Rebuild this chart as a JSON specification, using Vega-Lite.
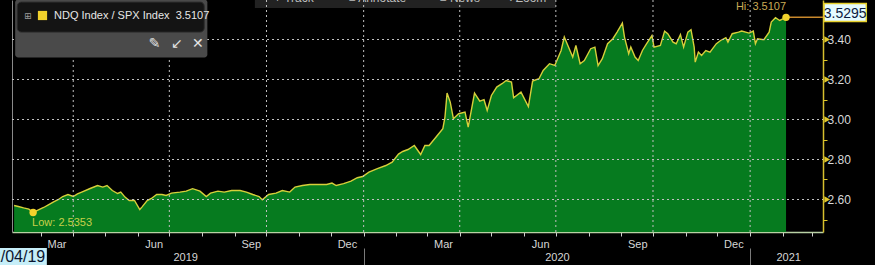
{
  "$schema": "https://vega.github.io/schema/vega-lite/v6.json",
  "width": 811,
  "height": 232,
  "autosize": {"type": "none"},
  "padding": {"left": 12, "top": 0, "right": 52, "bottom": 33},
  "background": "#000000",
  "config": {"view": {"stroke": null}, "font": "Liberation Sans"},
  "datasets": {
    "series": [
      {"d": "2019-02-04", "v": 2.570}, {"d": "2019-02-08", "v": 2.565}, {"d": "2019-02-13", "v": 2.558},
      {"d": "2019-02-18", "v": 2.552}, {"d": "2019-02-22", "v": 2.5353}, {"d": "2019-02-27", "v": 2.548},
      {"d": "2019-03-04", "v": 2.560}, {"d": "2019-03-08", "v": 2.572}, {"d": "2019-03-13", "v": 2.587},
      {"d": "2019-03-18", "v": 2.600}, {"d": "2019-03-22", "v": 2.615}, {"d": "2019-03-27", "v": 2.625},
      {"d": "2019-04-01", "v": 2.615}, {"d": "2019-04-05", "v": 2.628}, {"d": "2019-04-09", "v": 2.637},
      {"d": "2019-04-17", "v": 2.655}, {"d": "2019-04-24", "v": 2.670}, {"d": "2019-04-29", "v": 2.662},
      {"d": "2019-05-03", "v": 2.670}, {"d": "2019-05-08", "v": 2.645}, {"d": "2019-05-13", "v": 2.630},
      {"d": "2019-05-16", "v": 2.637}, {"d": "2019-05-20", "v": 2.612}, {"d": "2019-05-24", "v": 2.595},
      {"d": "2019-05-29", "v": 2.595}, {"d": "2019-06-03", "v": 2.550}, {"d": "2019-06-05", "v": 2.562},
      {"d": "2019-06-10", "v": 2.595}, {"d": "2019-06-14", "v": 2.605}, {"d": "2019-06-19", "v": 2.625},
      {"d": "2019-06-24", "v": 2.625}, {"d": "2019-06-28", "v": 2.620}, {"d": "2019-07-03", "v": 2.632},
      {"d": "2019-07-11", "v": 2.637}, {"d": "2019-07-17", "v": 2.642}, {"d": "2019-07-23", "v": 2.654},
      {"d": "2019-07-30", "v": 2.642}, {"d": "2019-08-05", "v": 2.615}, {"d": "2019-08-09", "v": 2.632},
      {"d": "2019-08-16", "v": 2.642}, {"d": "2019-08-22", "v": 2.637}, {"d": "2019-08-29", "v": 2.645},
      {"d": "2019-09-06", "v": 2.645}, {"d": "2019-09-12", "v": 2.637}, {"d": "2019-09-18", "v": 2.625},
      {"d": "2019-09-24", "v": 2.615}, {"d": "2019-09-27", "v": 2.599}, {"d": "2019-10-03", "v": 2.625},
      {"d": "2019-10-10", "v": 2.632}, {"d": "2019-10-16", "v": 2.645}, {"d": "2019-10-23", "v": 2.637},
      {"d": "2019-10-28", "v": 2.662}, {"d": "2019-11-04", "v": 2.670}, {"d": "2019-11-11", "v": 2.675},
      {"d": "2019-11-18", "v": 2.675}, {"d": "2019-11-27", "v": 2.675}, {"d": "2019-12-02", "v": 2.682},
      {"d": "2019-12-06", "v": 2.670}, {"d": "2019-12-13", "v": 2.679}, {"d": "2019-12-20", "v": 2.692},
      {"d": "2019-12-26", "v": 2.709}, {"d": "2019-12-31", "v": 2.715}, {"d": "2020-01-06", "v": 2.737},
      {"d": "2020-01-14", "v": 2.754}, {"d": "2020-01-22", "v": 2.770}, {"d": "2020-01-28", "v": 2.787},
      {"d": "2020-02-03", "v": 2.827}, {"d": "2020-02-07", "v": 2.840}, {"d": "2020-02-12", "v": 2.850},
      {"d": "2020-02-18", "v": 2.870}, {"d": "2020-02-24", "v": 2.825}, {"d": "2020-02-28", "v": 2.870},
      {"d": "2020-03-03", "v": 2.870}, {"d": "2020-03-10", "v": 2.915}, {"d": "2020-03-16", "v": 2.954},
      {"d": "2020-03-18", "v": 3.012}, {"d": "2020-03-20", "v": 3.132}, {"d": "2020-03-23", "v": 3.087},
      {"d": "2020-03-26", "v": 3.004}, {"d": "2020-03-31", "v": 3.029}, {"d": "2020-04-06", "v": 3.037},
      {"d": "2020-04-09", "v": 2.962}, {"d": "2020-04-15", "v": 3.132}, {"d": "2020-04-20", "v": 3.092},
      {"d": "2020-04-24", "v": 3.099}, {"d": "2020-04-27", "v": 3.045}, {"d": "2020-05-01", "v": 3.120},
      {"d": "2020-05-06", "v": 3.162}, {"d": "2020-05-11", "v": 3.179}, {"d": "2020-05-15", "v": 3.195},
      {"d": "2020-05-20", "v": 3.187}, {"d": "2020-05-22", "v": 3.109}, {"d": "2020-05-29", "v": 3.137},
      {"d": "2020-06-05", "v": 3.065}, {"d": "2020-06-09", "v": 3.192}, {"d": "2020-06-15", "v": 3.204},
      {"d": "2020-06-19", "v": 3.245}, {"d": "2020-06-25", "v": 3.279}, {"d": "2020-06-30", "v": 3.270},
      {"d": "2020-07-06", "v": 3.345}, {"d": "2020-07-09", "v": 3.412}, {"d": "2020-07-13", "v": 3.362},
      {"d": "2020-07-17", "v": 3.312}, {"d": "2020-07-20", "v": 3.370}, {"d": "2020-07-24", "v": 3.279},
      {"d": "2020-07-28", "v": 3.295}, {"d": "2020-08-03", "v": 3.354}, {"d": "2020-08-07", "v": 3.362},
      {"d": "2020-08-10", "v": 3.270}, {"d": "2020-08-14", "v": 3.304}, {"d": "2020-08-19", "v": 3.379},
      {"d": "2020-08-24", "v": 3.404}, {"d": "2020-08-28", "v": 3.437}, {"d": "2020-09-02", "v": 3.482},
      {"d": "2020-09-04", "v": 3.412}, {"d": "2020-09-08", "v": 3.329}, {"d": "2020-09-10", "v": 3.362},
      {"d": "2020-09-14", "v": 3.312}, {"d": "2020-09-17", "v": 3.295}, {"d": "2020-09-21", "v": 3.345},
      {"d": "2020-09-25", "v": 3.379}, {"d": "2020-09-30", "v": 3.420}, {"d": "2020-10-02", "v": 3.362},
      {"d": "2020-10-08", "v": 3.370}, {"d": "2020-10-12", "v": 3.442}, {"d": "2020-10-15", "v": 3.429},
      {"d": "2020-10-20", "v": 3.387}, {"d": "2020-10-23", "v": 3.379}, {"d": "2020-10-27", "v": 3.425},
      {"d": "2020-10-30", "v": 3.362}, {"d": "2020-11-03", "v": 3.437}, {"d": "2020-11-06", "v": 3.449},
      {"d": "2020-11-09", "v": 3.362}, {"d": "2020-11-10", "v": 3.287}, {"d": "2020-11-13", "v": 3.337},
      {"d": "2020-11-16", "v": 3.320}, {"d": "2020-11-20", "v": 3.345}, {"d": "2020-11-24", "v": 3.337},
      {"d": "2020-11-30", "v": 3.379}, {"d": "2020-12-04", "v": 3.395}, {"d": "2020-12-09", "v": 3.409},
      {"d": "2020-12-11", "v": 3.387}, {"d": "2020-12-15", "v": 3.429}, {"d": "2020-12-21", "v": 3.437},
      {"d": "2020-12-24", "v": 3.442}, {"d": "2020-12-31", "v": 3.432}, {"d": "2021-01-04", "v": 3.442},
      {"d": "2021-01-06", "v": 3.379}, {"d": "2021-01-08", "v": 3.404}, {"d": "2021-01-14", "v": 3.399},
      {"d": "2021-01-19", "v": 3.437}, {"d": "2021-01-21", "v": 3.487}, {"d": "2021-01-25", "v": 3.509},
      {"d": "2021-01-29", "v": 3.495}, {"d": "2021-02-04", "v": 3.5107}
    ],
    "qtr": [
      {"d": "2019-04-01"}, {"d": "2019-07-01"}, {"d": "2019-10-01"}, {"d": "2020-01-01"},
      {"d": "2020-04-01"}, {"d": "2020-07-01"}, {"d": "2020-10-01"}, {"d": "2021-01-01"}
    ],
    "hgrid": [{"v": 2.6}, {"v": 2.8}, {"v": 3.0}, {"v": 3.2}, {"v": 3.4}],
    "extremes": [
      {"d": "2019-02-22", "v": 2.5353, "s": "NDQ Index / SPX Index\u00a0\u00a03.5107", "t": "Low: 2.5353", "k": "low"},
      {"d": "2021-02-04", "v": 3.5107, "s": "NDQ Index / SPX Index\u00a0\u00a03.5107", "t": "Hi: 3.5107", "k": "hi"}
    ],
    "last": [{"d": "2021-02-04", "v": 3.5107, "live": 3.5295}]
  },
  "resolve": {"axis": {"x": "independent", "y": "independent"}},
  "layer": [
    {
      "data": {"values": [{}]},
      "mark": {"type": "rect", "fill": "#222222"},
      "encoding": {
        "x": {"datum": {"year": 2019, "month": 9, "date": 20}, "type": "temporal", "axis": null},
        "x2": {"datum": {"year": 2020, "month": 7, "date": 1}},
        "y": {"datum": 3.5975, "type": "quantitative", "axis": null},
        "y2": {"datum": 3.557}
      }
    },
    {
      "data": {"values": [{}]},
      "mark": {"type": "text", "baseline": "bottom", "fontSize": 12, "color": "#bdbdbd", "text": "+  Track"},
      "encoding": {
        "x": {"datum": {"year": 2019, "month": 10, "date": 27}, "type": "temporal", "axis": null},
        "y": {"datum": 3.574, "type": "quantitative", "axis": null}
      }
    },
    {
      "data": {"values": [{}]},
      "mark": {"type": "text", "baseline": "bottom", "fontSize": 12, "color": "#bdbdbd", "text": "\u2261  Annotate"},
      "encoding": {
        "x": {"datum": {"year": 2020, "month": 1, "date": 14}, "type": "temporal", "axis": null},
        "y": {"datum": 3.574, "type": "quantitative", "axis": null}
      }
    },
    {
      "data": {"values": [{}]},
      "mark": {"type": "text", "baseline": "bottom", "fontSize": 12, "color": "#bdbdbd", "text": "\u2261  News"},
      "encoding": {
        "x": {"datum": {"year": 2020, "month": 4, "date": 1}, "type": "temporal", "axis": null},
        "y": {"datum": 3.574, "type": "quantitative", "axis": null}
      }
    },
    {
      "data": {"values": [{}]},
      "mark": {"type": "text", "baseline": "bottom", "fontSize": 12, "color": "#bdbdbd", "text": "\u2039  Zoom"},
      "encoding": {
        "x": {"datum": {"year": 2020, "month": 6, "date": 4}, "type": "temporal", "axis": null},
        "y": {"datum": 3.574, "type": "quantitative", "axis": null}
      }
    },
    {
      "data": {"name": "series"},
      "mark": {"type": "area", "fill": "#067b1f", "opacity": 1, "fillOpacity": 1, "line": {"color": "#d6cf3a", "strokeWidth": 1.4, "opacity": 1}},
      "encoding": {
        "x": {
          "field": "d", "type": "temporal",
          "scale": {"domain": [{"year": 2019, "month": 2, "date": 2}, {"year": 2021, "month": 3, "date": 11}], "nice": false},
          "axis": {
            "orient": "bottom", "title": null, "grid": false,
            "tickCount": {"interval": "month", "step": 1},
            "labelExpr": "(month(datum.value) % 3 == 2 && year(datum.value) < 2021) ? timeFormat(datum.value, '%b') : ''",
            "labelOffset": 16, "labelOverlap": false, "labelFlush": false, "labelBound": false,
            "domainColor": "#b8d0a4", "domainWidth": 1.5,
            "tickColor": "#cfcfcf", "tickSize": 4, "labelPadding": 2,
            "labelColor": "#d6d6d6", "labelFontSize": 11
          }
        },
        "y": {
          "field": "v", "type": "quantitative",
          "scale": {"domain": [2.4375, 3.5975], "nice": false, "zero": false},
          "axis": {
            "orient": "right", "title": null, "grid": false,
            "values": [2.5, 2.6, 2.7, 2.8, 2.9, 3.0, 3.1, 3.2, 3.3, 3.4, 3.5],
            "labelExpr": "round(datum.value * 10) % 2 == 0 ? format(datum.value, '.2f') : ''",
            "labelOverlap": false, "labelFlush": false, "labelBound": false,
            "domainColor": "#d6bf2e", "domainWidth": 1.5,
            "tickColor": "#e2c92a",
            "tickSize": {"condition": {"test": "round(datum.value * 10) % 2 == 0", "value": 0}, "value": 4},
            "tickWidth": 1,
            "labelPadding": 4, "labelColor": "#d8d8d8", "labelFontSize": 12
          }
        },
        "y2": {"datum": 2.4375}
      }
    },
    {
      "data": {"name": "hgrid"},
      "mark": {"type": "rule", "stroke": "#c0c0c0", "strokeDash": [2, 3], "strokeWidth": 1, "opacity": 1},
      "encoding": {
        "x": {"datum": {"year": 2019, "month": 2, "date": 2}, "type": "temporal", "axis": null},
        "x2": {"datum": {"year": 2021, "month": 3, "date": 11}},
        "y": {
          "field": "v", "type": "quantitative",
          "axis": {"orient": "left", "title": null, "labels": false, "ticks": false, "grid": false, "domainColor": "#8a8a8a", "domainWidth": 1}
        }
      }
    },
    {
      "data": {"name": "hgrid"},
      "mark": {"type": "point", "shape": "triangle-right", "filled": true, "size": 45, "color": "#e2c92a", "opacity": 1},
      "encoding": {
        "x": {"datum": {"year": 2021, "month": 3, "date": 15}, "type": "temporal", "axis": null},
        "y": {"field": "v", "type": "quantitative", "axis": null}
      }
    },
    {
      "data": {"name": "qtr"},
      "mark": {"type": "rule", "stroke": "#c0c0c0", "strokeDash": [2, 3], "strokeWidth": 1, "opacity": 1},
      "encoding": {
        "x": {
          "field": "d", "type": "temporal",
          "axis": {
            "orient": "bottom", "title": null, "labels": false, "domain": false, "grid": false,
            "values": [{"year": 2020, "month": 1, "date": 1}, {"year": 2021, "month": 1, "date": 1}],
            "ticks": true, "tickSize": 17, "tickColor": "#7a7a7a", "offset": 16
          }
        },
        "y": {"datum": 3.5975, "type": "quantitative", "axis": null},
        "y2": {"datum": 2.4375}
      }
    },
    {
      "data": {"name": "last"},
      "mark": {"type": "rule", "color": "#c8882c", "strokeWidth": 1.5},
      "encoding": {
        "x": {"field": "d", "type": "temporal", "axis": null},
        "x2": {"datum": {"year": 2021, "month": 3, "date": 11}},
        "y": {"field": "v", "type": "quantitative", "axis": null}
      }
    },
    {
      "data": {"name": "extremes"},
      "mark": {"type": "point", "filled": true, "size": 55, "opacity": 1},
      "encoding": {
        "x": {
          "field": "d", "type": "temporal",
          "axis": {
            "orient": "bottom", "title": null, "ticks": false, "domain": false, "grid": false,
            "values": [{"year": 2019, "month": 7, "date": 16}, {"year": 2020, "month": 7, "date": 2}, {"year": 2021, "month": 2, "date": 6}],
            "format": "%Y", "offset": 15, "labelPadding": 4,
            "labelOverlap": false, "labelFlush": false, "labelBound": false,
            "labelColor": "#d6d6d6", "labelFontSize": 11
          }
        },
        "y": {"field": "v", "type": "quantitative", "axis": null},
        "color": {
          "field": "s", "type": "nominal",
          "scale": {"range": ["#f2d22c"]},
          "legend": {
            "title": null, "orient": "none", "legendX": 25, "legendY": 10,
            "symbolType": "square", "symbolSize": 85, "symbolStrokeWidth": 0,
            "labelColor": "#e6e6e6", "labelFontSize": 11, "labelOffset": 6, "labelLimit": 300,
            "padding": 0, "zindex": 1
          }
        }
      }
    },
    {
      "data": {"name": "extremes"},
      "transform": [{"filter": "datum.k == 'low'"}],
      "mark": {"type": "text", "align": "left", "baseline": "top", "dx": -1, "dy": 5, "fontSize": 11, "color": "#c6d04a"},
      "encoding": {
        "x": {"field": "d", "type": "temporal", "axis": null},
        "y": {"field": "v", "type": "quantitative", "axis": null},
        "text": {"field": "t"}
      }
    },
    {
      "data": {"name": "extremes"},
      "transform": [{"filter": "datum.k == 'hi'"}],
      "mark": {"type": "text", "align": "right", "baseline": "bottom", "dx": 0, "dy": -5, "fontSize": 11, "color": "#c9ab55"},
      "encoding": {
        "x": {"field": "d", "type": "temporal", "axis": null},
        "y": {"field": "v", "type": "quantitative", "axis": null},
        "text": {"field": "t"}
      }
    },
    {
      "data": {"values": [{}]},
      "mark": {"type": "rect", "fill": "#4a4a4a", "cornerRadius": 3},
      "encoding": {
        "x": {"datum": {"year": 2019, "month": 2, "date": 5}, "type": "temporal", "axis": null},
        "x2": {"datum": {"year": 2019, "month": 8, "date": 6}},
        "y": {"datum": 3.60, "type": "quantitative", "axis": null},
        "y2": {"datum": 3.31}
      }
    },
    {
      "data": {"values": [{}]},
      "mark": {"type": "rect", "fill": "#141414", "stroke": "#2c2c2c", "cornerRadius": 4},
      "encoding": {
        "x": {"datum": {"year": 2019, "month": 2, "date": 7}, "type": "temporal", "axis": null},
        "x2": {"datum": {"year": 2019, "month": 8, "date": 3}},
        "y": {"datum": 3.587, "type": "quantitative", "axis": null},
        "y2": {"datum": 3.437}
      }
    },
    {
      "data": {"values": [{}]},
      "mark": {"type": "text", "font": "DejaVu Sans", "fontSize": 9, "color": "#9a9a9a", "text": "\u229e", "baseline": "middle"},
      "encoding": {
        "x": {"datum": {"year": 2019, "month": 2, "date": 17}, "type": "temporal", "axis": null},
        "y": {"datum": 3.519, "type": "quantitative", "axis": null}
      }
    },
    {
      "data": {"values": [{}]},
      "mark": {"type": "text", "font": "DejaVu Sans", "fontSize": 14, "color": "#e4e4e4", "text": "\u270e", "baseline": "middle"},
      "encoding": {
        "x": {"datum": {"year": 2019, "month": 6, "date": 17}, "type": "temporal", "axis": null},
        "y": {"datum": 3.377, "type": "quantitative", "axis": null}
      }
    },
    {
      "data": {"values": [{}]},
      "mark": {"type": "text", "font": "DejaVu Sans", "fontSize": 14, "color": "#e4e4e4", "text": "\u2199", "baseline": "middle"},
      "encoding": {
        "x": {"datum": {"year": 2019, "month": 7, "date": 8}, "type": "temporal", "axis": null},
        "y": {"datum": 3.377, "type": "quantitative", "axis": null}
      }
    },
    {
      "data": {"values": [{}]},
      "mark": {"type": "text", "font": "DejaVu Sans", "fontSize": 14, "color": "#e4e4e4", "text": "\u2715", "baseline": "middle"},
      "encoding": {
        "x": {"datum": {"year": 2019, "month": 7, "date": 28}, "type": "temporal", "axis": null},
        "y": {"datum": 3.377, "type": "quantitative", "axis": null}
      }
    },
    {
      "data": {"values": [{}]},
      "mark": {"type": "rect", "fill": "#e4fbff", "stroke": "#e6d02c", "strokeWidth": 1.5},
      "encoding": {
        "x": {"datum": {"year": 2021, "month": 3, "date": 12}, "type": "temporal", "axis": null},
        "x2": {"datum": {"year": 2021, "month": 4, "date": 21}},
        "y": {"datum": 3.58, "type": "quantitative", "axis": null},
        "y2": {"datum": 3.49}
      }
    },
    {
      "data": {"name": "last"},
      "mark": {"type": "text", "align": "center", "baseline": "middle", "fontSize": 14, "color": "#0b1a40"},
      "encoding": {
        "x": {"datum": {"year": 2021, "month": 4, "date": 1}, "type": "temporal", "axis": null},
        "y": {"field": "live", "type": "quantitative", "axis": null},
        "text": {"field": "live", "format": ".4f"}
      }
    },
    {
      "data": {"values": [{}]},
      "mark": {"type": "rect", "fill": "#c6eef8"},
      "encoding": {
        "x": {"datum": {"year": 2019, "month": 1, "date": 2}, "type": "temporal", "axis": null},
        "x2": {"datum": {"year": 2019, "month": 3, "date": 7}},
        "y": {"datum": 2.357, "type": "quantitative", "axis": null},
        "y2": {"datum": 2.27}
      }
    },
    {
      "data": {"values": [{}]},
      "mark": {"type": "text", "align": "center", "baseline": "middle", "fontSize": 16, "color": "#0b1530", "text": "02/04/19"},
      "encoding": {
        "x": {"datum": {"year": 2019, "month": 2, "date": 4}, "type": "temporal", "axis": null},
        "y": {"datum": 2.315, "type": "quantitative", "axis": null}
      }
    }
  ]
}
